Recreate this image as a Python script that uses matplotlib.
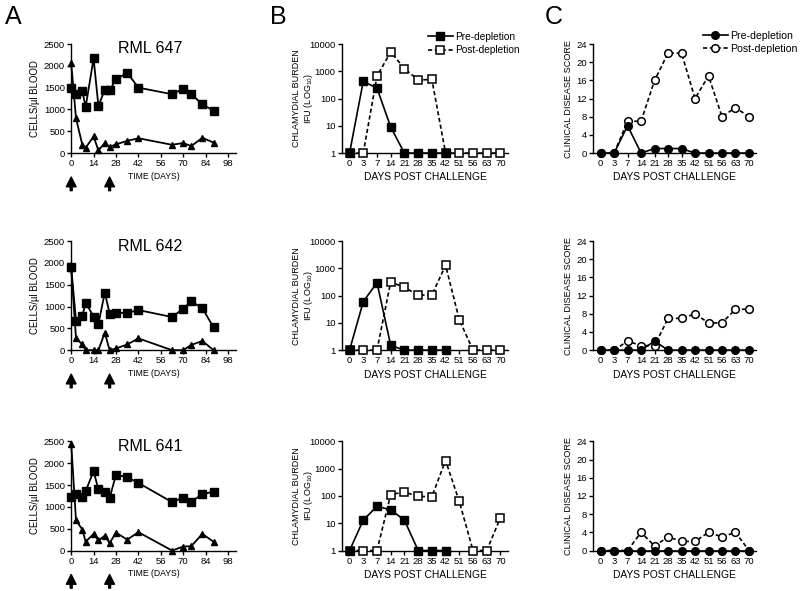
import numpy as np
import matplotlib.pyplot as plt

plt.rcParams['font.family'] = ['Liberation Sans', 'DejaVu Sans']
plt.rcParams['mathtext.default'] = 'regular'

animals = ['RML 647', 'RML 642', 'RML 641']

# A: cells per ul blood over time (squares / triangles)
time_days = [0, 3, 7, 9, 14, 17, 21, 24, 28, 35, 42, 63, 70, 75, 82, 89]
squares = [
    [1500, 1360, 1420, 1050, 2170, 1080, 1450, 1440, 1690, 1840, 1500, 1350, 1470, 1350, 1120, 970],
    [1900, 680, 790, 1090, 770, 600, 1320, 840, 860, 850, 920, 760, 950, 1120, 960, 520],
    [1230, 1300, 1230, 1360, 1820, 1400, 1350, 1200, 1740, 1680, 1550, 1110, 1210, 1120, 1290, 1350],
]
triangles = [
    [2060, 800, 180, 120, 380, 60, 230, 140, 200, 280, 340, 190, 230, 160, 350, 240],
    [1880, 270, 130, 0, 0, 0, 400, 0, 40, 130, 270, 0, 0, 120, 210, 0],
    [2450, 690, 480, 200, 380, 230, 340, 170, 410, 250, 420, 0, 90, 100, 380, 200],
]
depletion_days = [0, 24]

# B and C share the challenge days (categorical axis)
challenge_days = ['0', '3', '7', '14', '21', '28', '35', '42', '51', '56', '63', '70']
nan = np.nan
burden_pre = [
    [1, 430, 240, 9, 1, 1, 1, 1, nan, nan, nan, nan],
    [1, 60, 300, 1.5, 1, 1, 1, 1, nan, nan, nan, nan],
    [1, 13, 42, 31, 13, 1, 1, 1, nan, nan, nan, nan],
]
burden_post = [
    [1, 1, 660, 5100, 1260, 480, 500, 1, 1, 1, 1, 1],
    [1, 1, 1, 320, 200, 105, 105, 1300, 13, 1, 1, 1],
    [1, 1, 1, 113, 140, 96, 95, 2000, 63, 1, 1, 16],
]
score_pre = [
    [0, 0, 6, 0, 1, 1, 1, 0, 0, 0, 0, 0],
    [0, 0, 0, 0, 2, 0, 0, 0, 0, 0, 0, 0],
    [0, 0, 0, 0, 0, 0, 0, 0, 0, 0, 0, 0],
]
score_post = [
    [0, 0, 7, 7, 16, 22, 22, 12, 17, 8, 10, 8],
    [0, 0, 2, 1, 1, 7, 7, 8, 6, 6, 9, 9],
    [0, 0, 0, 4, 1, 3, 2, 2, 4, 3, 4, 0],
]

dash = (0, (2.5, 1.6))
fig = plt.figure(figsize=(8, 5.91), dpi=100)

def style(ax):
    for s in ['top', 'right']:
        ax.spines[s].set_visible(False)
    for s in ['left', 'bottom']:
        ax.spines[s].set_linewidth(1.0)
    ax.tick_params(direction='out', length=3, width=1.0, labelsize=6.8, pad=1.5)

rows = [0.741, 0.4075, 0.0685]
h = 0.1845
xs = np.arange(len(challenge_days))

for r in range(3):
    # ---- A
    ax = fig.add_axes([0.089, rows[r], 0.206, h])
    style(ax)
    ax.plot(time_days, squares[r], '-s', color='black', lw=1.3, ms=5.3, clip_on=False, zorder=3)
    ax.plot(time_days, triangles[r], '-^', color='black', lw=1.3, ms=4.6, clip_on=False, zorder=3)
    ax.set_xlim(0, 103)
    ax.set_ylim(0, 2500)
    ax.set_xticks(np.arange(0, 99, 14))
    ax.set_yticks(np.arange(0, 2501, 500))
    ax.set_ylabel('CELLS/\u00b5l BLOOD', fontsize=6.9, labelpad=2.5)
    ax.set_xlabel('TIME (DAYS)', fontsize=6.2, labelpad=2.5)
    ax.text(0.48, 0.955, animals[r], transform=ax.transAxes, ha='center', va='center', fontsize=11.5)
    for d in depletion_days:
        ax.annotate('', xy=(d, -0.22), xytext=(d, -0.345),
                    xycoords=('data', 'axes fraction'), textcoords=('data', 'axes fraction'),
                    arrowprops=dict(facecolor='black', edgecolor='black', width=1.4,
                                    headwidth=7, headlength=7, shrink=0),
                    annotation_clip=False)

    # ---- B
    ax = fig.add_axes([0.4275, rows[r], 0.2075, h])
    style(ax)
    ax.set_yscale('log')
    ax.plot(xs, burden_post[r], 's', color='black', ls=dash, lw=1.2, ms=5.3, mfc='white',
            mew=1.1, clip_on=False, zorder=3, label='Post-depletion')
    ax.plot(xs, burden_pre[r], 's-', color='black', lw=1.2, ms=5.3, clip_on=False, zorder=4,
            label='Pre-depletion')
    ax.set_xlim(-0.55, 11.55)
    ax.set_ylim(1, 10000)
    ax.set_xticks(xs)
    ax.set_xticklabels(challenge_days)
    ax.set_yticks([1, 10, 100, 1000, 10000])
    ax.set_yticklabels(['1', '10', '100', '1000', '10000'])
    ax.minorticks_off()
    ax.set_ylabel('CHLAMYDIAL BURDEN\nIFU (LOG$_{10}$)', fontsize=6.5, labelpad=-4, linespacing=1.1)
    ax.set_xlabel('DAYS POST CHALLENGE', fontsize=7.4, labelpad=3)
    if r == 0:
        hd, lb = ax.get_legend_handles_labels()
        ax.legend(hd[::-1], lb[::-1], loc='upper left', bbox_to_anchor=(0.52, 1.11), frameon=False,
                  fontsize=7.3, handlelength=2.4, handletextpad=0.2, borderpad=0, borderaxespad=0,
                  labelspacing=0.3)

    # ---- C
    ax = fig.add_axes([0.7415, rows[r], 0.204, h])
    style(ax)
    ax.plot(xs, score_post[r], 'o', color='black', ls=dash, lw=1.2, ms=5.5, mfc='white',
            mew=1.1, clip_on=False, zorder=3, label='Post-depletion')
    ax.plot(xs, score_pre[r], 'o-', color='black', lw=1.2, ms=5.5, clip_on=False, zorder=4,
            label='Pre-depletion')
    ax.set_xlim(-0.55, 11.55)
    ax.set_ylim(0, 24)
    ax.set_xticks(xs)
    ax.set_xticklabels(challenge_days)
    ax.set_yticks(np.arange(0, 25, 4))
    ax.set_ylabel('CLINICAL DISEASE SCORE', fontsize=6.6, labelpad=2.5)
    ax.set_xlabel('DAYS POST CHALLENGE', fontsize=7.4, labelpad=3)
    if r == 0:
        hd, lb = ax.get_legend_handles_labels()
        ax.legend(hd[::-1], lb[::-1], loc='upper left', bbox_to_anchor=(0.67, 1.12), frameon=False,
                  fontsize=7.6, handlelength=2.4, handletextpad=0.2, borderpad=0, borderaxespad=0,
                  labelspacing=0.3)

fig.text(0.006, 0.971, 'A', fontsize=18, va='center', ha='left')
fig.text(0.337, 0.971, 'B', fontsize=18, va='center', ha='left')
fig.text(0.681, 0.971, 'C', fontsize=18, va='center', ha='left')

fig.savefig('out.png', dpi=100)
